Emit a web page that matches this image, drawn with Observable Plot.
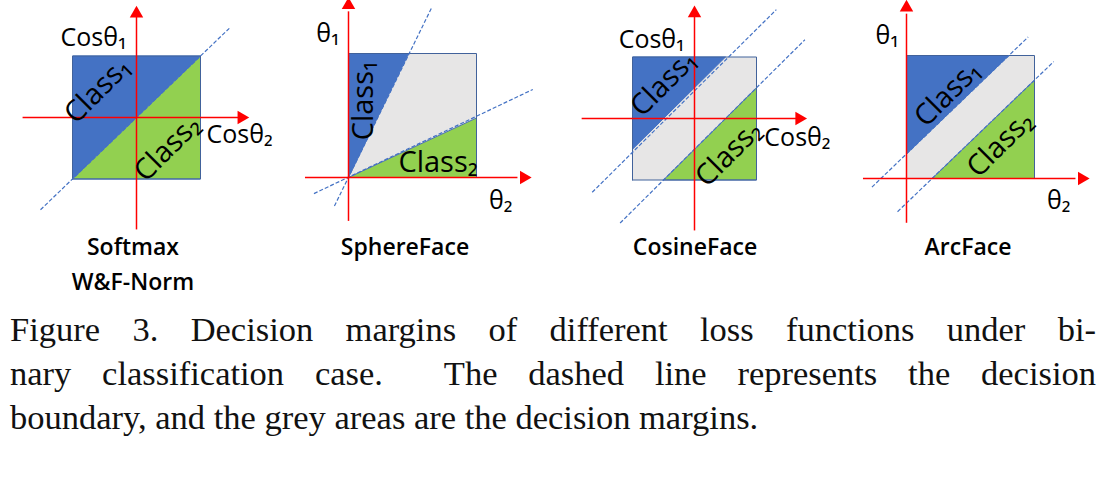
<!DOCTYPE html>
<html><head><meta charset="utf-8">
<script src="https://cdn.jsdelivr.net/npm/d3@7"></script>
<script src="https://cdn.jsdelivr.net/npm/@observablehq/plot@0.6"></script>
<style>
body{margin:0;background:#fff;width:1116px;height:494px;overflow:hidden}
#wrap{position:relative;width:1116px;height:300px}
#wrap svg{position:absolute;left:0;top:0}
.name{position:absolute;font:600 23px "Open Sans","Liberation Sans",sans-serif;transform:translateX(-50%);white-space:nowrap;color:#000}
#cap{position:absolute;left:10px;top:307px;width:1086px;font:34.5px "Liberation Serif",serif;line-height:44px;color:#111}
#cap div{text-align:justify;text-align-last:justify;white-space:nowrap}
#cap div.last{text-align-last:left}
</style></head><body>
<div id="wrap"></div>
<div id="cap">
<div>Figure 3. Decision margins of different loss functions under bi-</div>
<div>nary classification case.&nbsp; The dashed line represents the decision</div>
<div class="last">boundary, and the grey areas are the decision margins.</div>
</div>
<script>
// panel names
const names = ["Softmax\nW&F-Norm", "SphereFace", "CosineFace", "ArcFace"];
const axisLabels = [["Cosθ₁", "Cosθ₂"], ["θ₁", "θ₂"], ["Cosθ₁", "Cosθ₂"], ["θ₁", "θ₂"]];

// squares (decision space) per panel
const squares = [
  [[-1, -1], [1, -1], [1, 1], [-1, 1]],
  [[0, 0], [1, 0], [1, 1], [0, 1]],
  [[-1, -1], [1, -1], [1, 1], [-1, 1]],
  [[0, 0], [1, 0], [1, 1], [0, 1]]
];
// class 1 (blue) regions
const class1 = [
  [[-1, -1], [1, 1], [-1, 1]],
  [[0, 0], [0.47, 1], [0, 1]],
  [[-1, -0.5], [0.5, 1], [-1, 1]],
  [[0, 0.2], [0.8, 1], [0, 1]]
];
// class 2 (green) regions
const class2 = [
  [[-1, -1], [1, -1], [1, 1]],
  [[0, 0], [1, 0], [1, 0.48]],
  [[-0.5, -1], [1, -1], [1, 0.5]],
  [[0.2, 0], [1, 0], [1, 0.8]]
];
// dashed decision boundaries [x1,y1,x2,y2]
const boundaries = [
  [[-1.5, -1.5, 1.45, 1.45]],
  [[-0.11, -0.23, 0.65, 1.37], [-0.27, -0.13, 1.44, 0.71]],
  [[-1.65, -1.2, 1.32, 1.77], [-1.2, -1.7, 1.78, 1.28]],
  [[-0.27, -0.07, 0.95, 1.15], [-0.07, -0.27, 1.15, 0.95]]
];
// axis extents [xmin,xmax,ymin,ymax]
const axes = [
  [-1.78, 1.64, -1.82, 1.69],
  [-0.34, 1.37, -0.35, 1.39],
  [-1.82, 1.69, -1.82, 1.71],
  [-0.34, 1.37, -0.36, 1.39]
];
// class label positions [x,y]
const class1Pos = [[-0.61, 0.44], [0.12, 0.62], [-0.5, 0.57], [0.32, 0.69]];
const class2Pos = [[0.48, -0.5], [0.7, 0.12], [0.55, -0.57], [0.73, 0.28]];
const class1Rot = [-45, -90, -45, -45];
const class2Rot = [-45, 0, -45, -45];
const labelPos = [
  [[-0.67, 1.3], [1.61, -0.29]],
  [[-0.16, 1.16], [1.19, -0.19]],
  [[-0.69, 1.27], [1.66, -0.31]],
  [[-0.15, 1.16], [1.19, -0.18]]
];

// pixel frame of each panel: origin and unit size
const frames = [
  {ox: 136, oy: 117, ux: 64, uy: 61.5, nx: 133},
  {ox: 348, oy: 177, ux: 128, uy: 124, nx: 405},
  {ox: 694, oy: 118, ux: 62, uy: 61.5, nx: 695},
  {ox: 906, oy: 178, ux: 128, uy: 123, nx: 968}
];

const blue = "#4472c4", green = "#92d050", grey = "#e7e6e6", red = "#ff0000";
const font = "'Open Sans','Liberation Sans',sans-serif";

frames.forEach((f, i) => {
  const [x0, x1, y0, y1] = axes[i];
  const poly = (pts, fill, stroke) => Plot.line([...pts, pts[0]], {x: d => d[0], y: d => d[1], fill, stroke: stroke || "none", strokeWidth: 1, curve: "linear"});
  const chart = Plot.plot({
    width: 1116, height: 300, margin: 0,
    style: {background: "transparent", overflow: "visible"},
    x: {domain: [0, 1], range: [f.ox, f.ox + f.ux], axis: null},
    y: {domain: [0, 1], range: [f.oy, f.oy - f.uy], axis: null},
    marks: [
      poly(squares[i], grey),
      poly(class1[i], blue, blue),
      poly(class2[i], green, i === 0 ? blue : "#4a6fb5"),
      poly(squares[i], "none", "#41629b"),
      Plot.link(boundaries[i], {x1: d => d[0], y1: d => d[1], x2: d => d[2], y2: d => d[3], stroke: blue, strokeWidth: 1.2, strokeDasharray: "4,2"}),
      Plot.link([[x0, 0, x1 - 0.05, 0], [0, y0, 0, y1 - 0.05]], {x1: d => d[0], y1: d => d[1], x2: d => d[2], y2: d => d[3], stroke: red, strokeWidth: 1.5}),
      Plot.dot([[x1, 0, 90], [0, y1, 0]], {x: d => d[0], y: d => d[1], rotate: d => d[2], symbol: "triangle", r: 5, fill: red, stroke: "none"}),
      Plot.text([class1Pos[i]], {x: d => d[0], y: d => d[1], text: ["Class₁"], rotate: class1Rot[i], fontSize: 29, fontWeight: 500, fontFamily: font, fill: "#000"}),
      Plot.text([class2Pos[i]], {x: d => d[0], y: d => d[1], text: ["Class₂"], rotate: class2Rot[i], fontSize: 29, fontWeight: 500, fontFamily: font, fill: "#000"}),
      Plot.text(labelPos[i], {x: d => d[0], y: d => d[1], text: axisLabels[i], fontSize: 25, fontWeight: 500, fontFamily: font, fill: "#000"})
    ]
  });
  document.getElementById("wrap").append(chart);
  names[i].split("\n").forEach((t, k) => {
    const n = document.createElement("div");
    n.className = "name";
    n.textContent = t;
    n.style.left = f.nx + "px";
    n.style.top = (230 + k * 35) + "px";
    document.getElementById("wrap").append(n);
  });
});
</script>
</body></html>
